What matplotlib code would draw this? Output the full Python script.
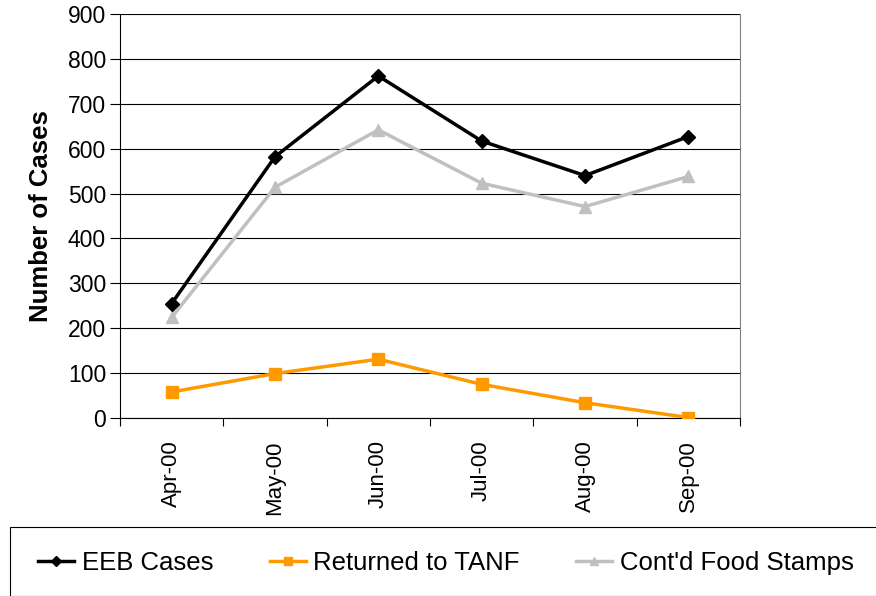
import matplotlib.pyplot as plt
from matplotlib.patches import Rectangle

plt.rcParams['font.family'] = ['Liberation Sans', 'DejaVu Sans']

months = ["Apr-00", "May-00", "Jun-00", "Jul-00", "Aug-00", "Sep-00"]
eeb_cases = [255, 582, 762, 617, 540, 627]
returned_tanf = [58, 99, 131, 75, 34, 1]
contd_food_stamps = [224, 514, 642, 523, 471, 538]

fig = plt.figure(figsize=(8.76, 5.96), dpi=100)
ax = fig.add_axes([120 / 876, 1 - 418 / 596, 620 / 876, 404 / 596])

x = range(len(months))
ax.plot(x, eeb_cases, color="black", lw=2.5, marker="D", ms=7, label="EEB Cases", zorder=4)
ax.plot(x, returned_tanf, color="#FF9900", lw=2.5, marker="s", ms=8, label="Returned to TANF", zorder=3)
ax.plot(x, contd_food_stamps, color="#C0C0C0", lw=2.5, marker="^", ms=8, label="Cont'd Food Stamps", zorder=3)

ax.set_xlim(-0.5, len(months) - 0.5)
ax.set_ylim(0, 900)
ax.set_yticks(range(0, 901, 100))
ax.yaxis.grid(True, color="black", lw=0.8)
ax.set_axisbelow(True)
ax.tick_params(axis="y", labelsize=16.5, direction="out", length=7, width=0.8, pad=3)

ax.set_xticks(list(x))
ax.set_xticklabels(months, rotation=90, fontsize=16)
ax.set_xticks([i - 0.5 for i in range(len(months) + 1)], minor=True)
ax.tick_params(axis="x", which="major", length=0, pad=16)
ax.tick_params(axis="x", which="minor", length=6, width=0.8, direction="out")

ax.spines["right"].set_color("#808080")
ax.spines["top"].set_visible(False)
for side in ["left", "bottom"]:
    ax.spines[side].set_color("black")

ax.set_ylabel("Number of Cases", fontsize=18.5, fontweight="bold", labelpad=11)

fig.patches.append(Rectangle((10 / 876, 0), 1, 69 / 596, transform=fig.transFigure,
                             fill=False, edgecolor="black", lw=0.8))
leg = fig.legend(loc="center", bbox_to_anchor=(446 / 876, 33 / 596), ncol=3, frameon=False,
                 fontsize=18.5, handlelength=1.4, handletextpad=0.3, columnspacing=2.2,
                 markerscale=0.8)

fig.savefig("out.png", dpi=100)
